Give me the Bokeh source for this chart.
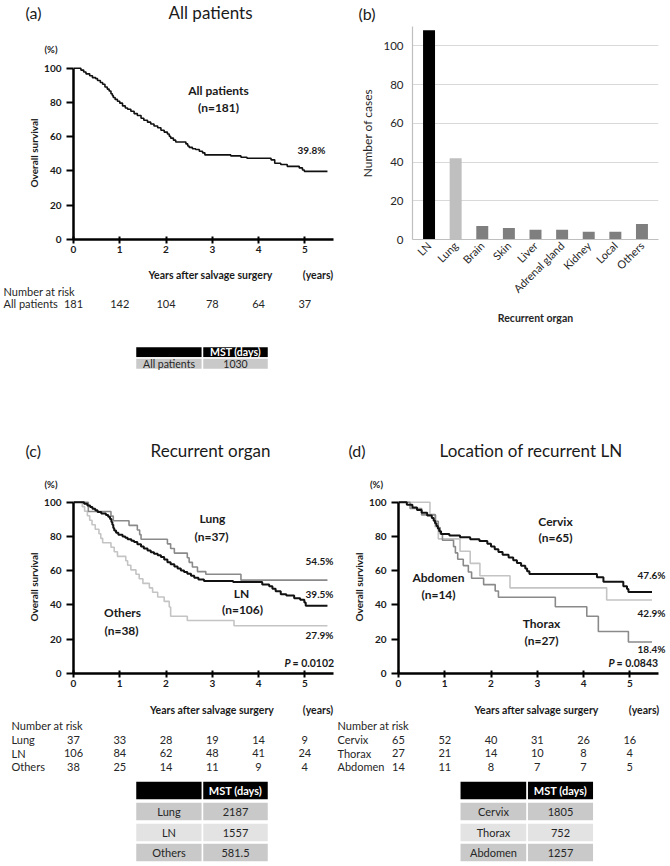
import math
from bokeh.plotting import figure
from bokeh.layouts import row, column
from bokeh.models import Range1d, FixedTicker, Label, FactorRange
from bokeh.embed import file_html
from bokeh.resources import INLINE
from bokeh.core.properties import value

FONT = "Lato"
INK = "#1a1a1a"
SOFT = "#262626"

# ------------------------------------------------------------------ data
YEARS = [0, 1, 2, 3, 4, 5]
SURV_TICKS = [0, 20, 40, 60, 80, 100]
CASE_TICKS = [0, 20, 40, 60, 80, 100]

# (a) all patients
ALL_T = [0, 0.16, 0.22, 0.27, 0.35, 0.41, 0.48, 0.52, 0.58, 0.63, 0.68, 0.73, 0.77, 0.81, 0.84,
         0.86, 0.90, 0.95, 1.00, 1.06, 1.12, 1.17, 1.24, 1.31, 1.38, 1.46, 1.52, 1.60, 1.67, 1.74,
         1.82, 1.89, 1.96, 2.03, 2.07, 2.10, 2.16, 2.21, 2.43, 2.47, 2.50, 2.57, 2.64, 2.72, 2.79,
         2.84, 3.40, 3.62, 3.75, 4.27, 4.35, 4.48, 4.62, 4.88, 4.95, 4.99, 5.49]
ALL_S = [100, 98.9, 97.8, 96.7, 95.6, 94.5, 93.9, 92.8, 91.7, 90.6, 89.0, 87.8, 86.7, 85.1, 84.0,
         82.9, 81.8, 80.7, 79.6, 78.0, 76.8, 76.0, 74.9, 73.5, 72.4, 70.8, 69.6, 68.5, 67.4, 66.3,
         65.2, 63.8, 62.7, 61.6, 60.3, 59.2, 58.0, 56.9, 55.8, 54.6, 53.8, 53.0, 52.5, 51.5, 50.6,
         49.4, 48.8, 48.0, 47.4, 46.5, 44.5, 43.8, 42.7, 41.8, 40.6, 39.8, 39.8]

# (c) recurrent organ
LN_T = [0, 0.23, 0.30, 0.36, 0.41, 0.47, 0.52, 0.60, 0.70, 0.75, 0.79, 0.82, 0.84, 0.86, 0.88,
        0.92, 0.97, 1.06, 1.12, 1.17, 1.25, 1.31, 1.38, 1.46, 1.52, 1.60, 1.67, 1.74, 1.82, 1.89,
        1.96, 2.03, 2.10, 2.18, 2.25, 2.32, 2.39, 2.46, 2.54, 2.61, 2.70, 2.82, 3.45, 4.08, 4.23,
        4.30, 4.37, 4.48, 4.60, 4.77, 4.90, 4.99, 5.02, 5.49]
LN_S = [100, 99.1, 98.1, 97.2, 96.2, 95.3, 94.3, 93.4, 92.5, 91.5, 90.2, 88.5, 86.8, 85.0, 83.5,
        82.2, 81.0, 80.0, 79.2, 78.4, 77.5, 76.7, 75.4, 74.2, 73.0, 71.8, 70.8, 69.9, 69.0, 68.0,
        66.5, 65.0, 63.8, 62.5, 61.3, 60.2, 59.2, 58.3, 57.1, 55.9, 54.9, 54.0, 53.4, 52.0, 50.9,
        49.5, 48.0, 46.2, 45.5, 44.0, 43.0, 41.5, 39.5, 39.5]
LUNG_T = [0, 0.32, 0.81, 0.86, 1.20, 1.38, 1.43, 1.46, 2.03, 2.10, 2.18, 2.46, 2.50, 2.57, 2.68,
          2.86, 3.62, 5.49]
LUNG_S = [100, 94.6, 91.9, 89.2, 86.5, 83.8, 81.1, 78.4, 75.7, 73.0, 70.3, 67.6, 64.9, 62.2, 59.5,
          57.9, 54.5, 54.5]
OTH_T = [0, 0.19, 0.24, 0.30, 0.35, 0.40, 0.47, 0.55, 0.59, 0.63, 0.81, 0.88, 0.95, 1.13, 1.17,
         1.24, 1.35, 1.42, 1.50, 1.64, 1.71, 1.82, 1.96, 2.07, 2.10, 2.46, 3.47, 5.49]
OTH_S = [100, 97.4, 94.7, 92.1, 89.5, 86.8, 84.2, 81.6, 78.9, 76.3, 73.7, 71.1, 68.4, 65.8, 63.2,
         60.5, 57.9, 55.3, 52.6, 50.0, 47.4, 44.7, 42.1, 38.8, 33.4, 30.9, 27.9, 27.9]

# (d) location of recurrent LN
CERV_T = [0, 0.18, 0.30, 0.40, 0.50, 0.62, 0.72, 0.76, 0.79, 0.82, 0.85, 0.88, 0.92, 1.10, 1.33,
          1.55, 1.75, 1.92, 2.00, 2.08, 2.16, 2.25, 2.38, 2.48, 2.56, 2.65, 2.74, 2.78, 2.83, 4.29,
          4.43, 4.86, 4.94, 4.97, 5.48]
CERV_S = [100, 98.5, 96.9, 95.4, 93.8, 92.3, 90.8, 89.2, 87.7, 86.1, 84.6, 83.1, 81.5, 80.6, 79.5,
          78.4, 77.4, 75.7, 74.1, 72.5, 70.9, 69.3, 67.7, 66.1, 64.5, 62.9, 61.3, 59.7, 58.1, 56.2,
          53.6, 51.0, 49.3, 47.6, 47.6]
THOR_T = [0, 0.25, 0.50, 0.80, 0.86, 0.90, 0.95, 1.19, 1.23, 1.28, 1.40, 1.51, 1.58, 1.84, 2.09,
          2.16, 3.39, 4.07, 4.32, 4.97, 5.48]
THOR_S = [100, 96.3, 92.6, 88.9, 85.2, 81.5, 77.8, 74.1, 70.4, 66.7, 63.0, 59.3, 55.6, 51.9, 48.2,
          44.5, 39.0, 33.4, 24.5, 18.4, 18.4]
ABD_T = [0, 0.68, 0.79, 0.86, 1.33, 1.55, 1.76, 2.41, 4.50, 5.48]
ABD_S = [100, 92.9, 85.7, 78.6, 71.4, 64.3, 57.1, 50.0, 42.9, 42.9]

# numbers at risk
RISK_ALL = [181, 142, 104, 78, 64, 37]
RISK_LUNG = [37, 33, 28, 19, 14, 9]
RISK_LN = [106, 84, 62, 48, 41, 24]
RISK_OTH = [38, 25, 14, 11, 9, 4]
RISK_CERV = [65, 52, 40, 31, 26, 16]
RISK_THOR = [27, 21, 14, 10, 8, 4]
RISK_ABD = [14, 11, 8, 7, 7, 5]

# median survival times
MST_A_GROUPS = ["All patients"]
MST_A_DAYS = ["1030"]
MST_C_GROUPS = ["Lung", "LN", "Others"]
MST_C_DAYS = ["2187", "1557", "581.5"]
MST_D_GROUPS = ["Cervix", "Thorax", "Abdomen"]
MST_D_DAYS = ["1805", "752", "1257"]

# (b) recurrent organs
ORGANS = ["LN", "Lung", "Brain", "Skin", "Liver", "Adrenal gland", "Kidney", "Local", "Others"]
ORGAN_CASES = [108, 42, 7, 6, 5, 5, 4, 4, 8]
ORGAN_COLORS = ["#000000", "#bfbfbf", "#7f7f7f", "#7f7f7f", "#7f7f7f", "#7f7f7f", "#7f7f7f",
                "#7f7f7f", "#7f7f7f"]

# ------------------------------------------------------------------ layout
COL_W = 335
PX_PER_YR = 46.26
X_AXIS_END = 5.62
Y_END = 101

BLACK_LINE = dict(line_color="#111111", line_width=2)
MID_LINE = dict(line_color="#8a8a8a", line_width=1.6)
LIGHT_LINE = dict(line_color="#c4c4c4", line_width=1.6)


def no_frame_align(p):
    try:
        p.frame_align = False
    except Exception:
        pass


def km_figure(origin, height, left, top, bottom):
    x_end = (COL_W - left) / PX_PER_YR
    p = figure(width=COL_W, height=height, x_range=Range1d(0, x_end), y_range=Range1d(0, Y_END),
               min_border_left=left, min_border_right=0, min_border_top=top,
               min_border_bottom=bottom, output_backend="svg", toolbar_location=None, title=None)
    no_frame_align(p)
    p.outline_line_color = None
    p.grid.visible = False
    xa, ya = p.xaxis[0], p.yaxis[0]
    xa.ticker = FixedTicker(ticks=YEARS)
    ya.ticker = FixedTicker(ticks=SURV_TICKS)
    xa.bounds = (0, X_AXIS_END)
    ya.bounds = (0, 100)
    for ax in (xa, ya):
        ax.axis_line_width = 2.5
        ax.axis_line_color = "black"
        ax.major_tick_line_width = 2
        ax.major_tick_line_color = "black"
        ax.minor_tick_line_color = None
        ax.major_label_text_font = FONT
        ax.major_label_text_font_size = "10px"
        ax.major_label_text_font_style = "bold"
        ax.major_label_text_color = INK
    xa.major_tick_in = 3
    xa.major_tick_out = 4
    xa.major_label_standoff = 2
    ya.major_tick_in = 0
    ya.major_tick_out = 7
    ya.major_label_standoff = 5
    ya.axis_label = "Overall survival"
    ya.axis_label_text_font = FONT
    ya.axis_label_text_font_size = "10px"
    ya.axis_label_text_font_style = "bold"
    ya.axis_label_text_color = INK
    ya.axis_label_standoff = 1

    frame_left = origin[0] + left
    frame_bottom = origin[1] + height - bottom
    px_per_pct = (height - top - bottom) / Y_END

    def conv(px, py):
        return (px - frame_left) / PX_PER_YR, (frame_bottom - py) / px_per_pct

    return p, conv, frame_left


def put(p, conv, px, py, text, size, style="bold", align="center", color=INK):
    x, y = conv(px, py)
    p.add_layout(Label(x=x, y=y, text=text, text_font=FONT, text_font_size=f"{size}px",
                       text_font_style=style, text_align=align, text_baseline="middle",
                       text_color=color))


def text_figure(origin, height, zero_px=None):
    ox, oy = origin
    p = figure(width=COL_W, height=height, x_range=Range1d(0, COL_W),
               y_range=Range1d(height, 0), x_axis_type=None, y_axis_type=None, min_border=0,
               output_backend="svg", toolbar_location=None, title=None)
    no_frame_align(p)
    if zero_px is not None:
        p.extra_x_ranges = {"yr": Range1d(-(zero_px - ox) / PX_PER_YR,
                                          (ox + COL_W - zero_px) / PX_PER_YR)}
    p.outline_line_color = None
    p.grid.visible = False
    return p


def ptext(p, origin, pxs, pys, texts, size, style="normal", align="center", color=SOFT,
          years=False):
    ox, oy = origin
    xs = list(pxs) if years else [x - ox for x in pxs]
    extra = {"x_range_name": "yr"} if years else {}
    p.text(x=xs, y=[y - oy for y in pys], text=texts, text_font=value(FONT),
           text_font_size=f"{size}px", text_font_style=style, text_align=align,
           text_baseline="middle", text_color=color, **extra)


def add_heading(p, origin, tag_px, tag, title_px, title, pct_px, pct_py, title_py):
    ptext(p, origin, [tag_px], [title_py], [tag], 16, align="left", color=INK)
    ptext(p, origin, [title_px], [title_py], [title], 17, color=INK)
    if pct_px is not None:
        ptext(p, origin, [pct_px], [pct_py], ["(%)"], 9.5, "bold", color=INK)


def add_axis_title(p, origin, title_px, years_px, py):
    ptext(p, origin, [title_px], [py], ["Years after salvage surgery"], 10.5, "bold", color=INK)
    ptext(p, origin, [years_px], [py], ["(years)"], 10.5, "bold", color=INK)


def add_at_risk(p, origin, label_px, head_py, row_pys, groups, risks):
    ptext(p, origin, [label_px], [head_py], ["Number at risk"], 11, align="left")
    ptext(p, origin, [label_px] * len(groups), row_pys, groups, 11, align="left")
    xs, ys, ts = [], [], []
    for r, vals in zip(row_pys, risks):
        for yr, v in zip(YEARS, vals):
            xs.append(yr)
            ys.append(r)
            ts.append(str(v))
    ptext(p, origin, xs, ys, ts, 11, years=True)


ROW_SHADES = ["#c9c9c9", "#e3e3e3", "#c9c9c9"]


def add_mst(p, origin, col_px, head_py, row_py, groups, days, size):
    ox, oy = origin
    l, m, r = [c - ox for c in col_px]
    p.quad(left=[l, m], right=[m, r], top=[head_py[0] - oy] * 2, bottom=[head_py[1] - oy] * 2,
           fill_color="black", line_color="white", line_width=1.5)
    ptext(p, origin, [(col_px[1] + col_px[2]) / 2], [(head_py[0] + head_py[1]) / 2],
          ["MST (days)"], size, "bold", color="white")
    for i, (g, d) in enumerate(zip(groups, days)):
        t, b = row_py[i]
        p.quad(left=[l, m], right=[m, r], top=[t - oy] * 2, bottom=[b - oy] * 2,
               fill_color=ROW_SHADES[i], line_color="white", line_width=1.5)
        cy = (t + b) / 2
        ptext(p, origin, [(col_px[0] + col_px[1]) / 2, (col_px[1] + col_px[2]) / 2], [cy, cy],
              [g, d], size)


# ---------------- panel (a)
HA = (0, 0)
ha = text_figure(HA, 60)
add_heading(ha, HA, 25, "(a)", 210, "All patients", 50.5, 49, 12)

A_ORIGIN = (0, 60)
pa, ca, a_zero = km_figure(A_ORIGIN, 202, 73, 6, 23)
pa.step(ALL_T, ALL_S, mode="after", line_color="#111111", line_width=1.6)
put(pa, ca, 218, 90, "All patients", 12)
put(pa, ca, 218, 107, "(n=181)", 12)
put(pa, ca, 311, 149, "39.8%", 10)

IA = (0, 262)
ia = text_figure(IA, 121, a_zero)
add_axis_title(ia, IA, 210, 317.5, 274)
add_at_risk(ia, IA, 3, 291, [303], ["All patients"], [RISK_ALL])
add_mst(ia, IA, [135, 202, 268], (346, 357.5), [(357.5, 369)], MST_A_GROUPS, MST_A_DAYS, 10.5)

# ---------------- panel (b)
HB = (335, 0)
hb = text_figure(HB, 24)
ptext(hb, HB, [358], [13], ["(b)"], 16, align="left", color=INK)

pb = figure(width=COL_W, height=359,
            x_range=FactorRange(factors=ORGANS, range_padding=0.027, range_padding_units="percent"),
            y_range=Range1d(0, 110), min_border_left=77, min_border_right=12, min_border_top=2,
            min_border_bottom=144, output_backend="svg", toolbar_location=None, title=None)
no_frame_align(pb)
pb.outline_line_color = None
pb.vbar(x=ORGANS, top=ORGAN_CASES, width=0.45, fill_color=ORGAN_COLORS, line_color=None)
pb.xgrid.visible = False
pb.ygrid.grid_line_color = "#d9d9d9"
pb.ygrid.grid_line_width = 1
pb.yaxis.ticker = FixedTicker(ticks=CASE_TICKS)
for ax in (pb.xaxis[0], pb.yaxis[0]):
    ax.axis_line_color = "#bfbfbf"
    ax.axis_line_width = 1.2
    ax.major_tick_line_color = None
    ax.minor_tick_line_color = None
    ax.major_tick_in = 0
    ax.major_tick_out = 0
    ax.major_label_text_font = FONT
    ax.major_label_text_color = SOFT
pb.yaxis.major_label_text_font_size = "11.5px"
pb.yaxis.major_label_standoff = 9
pb.yaxis.axis_label = "Number of cases"
pb.yaxis.axis_label_text_font = FONT
pb.yaxis.axis_label_text_font_size = "12px"
pb.yaxis.axis_label_text_font_style = "normal"
pb.yaxis.axis_label_text_color = SOFT
pb.yaxis.axis_label_standoff = 5
pb.xaxis.major_label_orientation = math.pi / 4
pb.xaxis.major_label_text_font_size = "11px"
pb.xaxis.major_label_standoff = 4
pb.xaxis.axis_label = "Recurrent organ"
pb.xaxis.axis_label_text_font = FONT
pb.xaxis.axis_label_text_font_size = "10.5px"
pb.xaxis.axis_label_text_font_style = "bold"
pb.xaxis.axis_label_text_color = SOFT
pb.xaxis.axis_label_standoff = 10

# ---------------- panel (c)
HC = (0, 383)
hc = text_figure(HC, 107)
add_heading(hc, HC, 25, "(c)", 210, "Recurrent organ", 50.5, 484, 450)

C_ORIGIN = (0, 490)
pc, cc, c_zero = km_figure(C_ORIGIN, 206, 73, 10, 23)
pc.step(OTH_T, OTH_S, mode="after", **LIGHT_LINE)
pc.step(LUNG_T, LUNG_S, mode="after", **MID_LINE)
pc.step(LN_T, LN_S, mode="after", **BLACK_LINE)
put(pc, cc, 212, 518, "Lung", 12)
put(pc, cc, 211, 536, "(n=37)", 12)
put(pc, cc, 241, 593, "LN", 12)
put(pc, cc, 242, 609, "(n=106)", 12)
put(pc, cc, 122, 612, "Others", 12)
put(pc, cc, 121, 630, "(n=38)", 12)
put(pc, cc, 333, 560, "54.5%", 10, align="right")
put(pc, cc, 333, 593, "39.5%", 10, align="right")
put(pc, cc, 333, 634, "27.9%", 10, align="right")
put(pc, cc, 284, 662, "P", 10.5, "bold italic", "left")
put(pc, cc, 292, 662, "= 0.0102", 10.5, "bold", "left")

IC = (0, 696)
ic = text_figure(IC, 170, c_zero)
add_axis_title(ic, IC, 211.5, 317.5, 709)
add_at_risk(ic, IC, 11, 725, [739, 752.5, 766], ["Lung", "LN", "Others"],
            [RISK_LUNG, RISK_LN, RISK_OTH])
add_mst(ic, IC, [135, 202, 268], (780.5, 799.5),
        [(801.5, 820.5), (822.5, 841.5), (842.5, 861.5)], MST_C_GROUPS, MST_C_DAYS, 11)

# ---------------- panel (d)
HD = (335, 383)
hd = text_figure(HD, 107)
add_heading(hd, HD, 348, "(d)", 530.5, "Location of recurrent LN", 376, 484, 450)

D_ORIGIN = (335, 490)
pd_, cd, d_zero = km_figure(D_ORIGIN, 206, 63, 10, 23)
pd_.step(ABD_T, ABD_S, mode="after", **LIGHT_LINE)
pd_.step(THOR_T, THOR_S, mode="after", **MID_LINE)
pd_.step(CERV_T, CERV_S, mode="after", **BLACK_LINE)
put(pd_, cd, 555, 521, "Cervix", 12)
put(pd_, cd, 555, 537, "(n=65)", 12)
put(pd_, cd, 438, 577, "Abdomen", 12)
put(pd_, cd, 438, 594, "(n=14)", 12)
put(pd_, cd, 541, 623, "Thorax", 12)
put(pd_, cd, 541, 640, "(n=27)", 12)
put(pd_, cd, 665, 574, "47.6%", 10, align="right")
put(pd_, cd, 665, 612, "42.9%", 10, align="right")
put(pd_, cd, 665, 648, "18.4%", 10, align="right")
put(pd_, cd, 608, 662, "P", 10.5, "bold italic", "left")
put(pd_, cd, 616, 662, "= 0.0843", 10.5, "bold", "left")

ID = (335, 696)
idd = text_figure(ID, 170, d_zero)
add_axis_title(idd, ID, 536, 643.5, 709)
add_at_risk(idd, ID, 337, 725, [739, 752.5, 766], ["Cervix", "Thorax", "Abdomen"],
            [RISK_CERV, RISK_THOR, RISK_ABD])
add_mst(idd, ID, [459.3, 526.7, 593.3], (780.5, 799.5),
        [(801.5, 820.5), (822.5, 841.5), (842.5, 861.5)], MST_D_GROUPS, MST_D_DAYS, 11)

layout = column(
    row(column(ha, pa, ia), column(hb, pb)),
    row(column(hc, pc, ic), column(hd, pd_, idd)),
)

with open("out.html", "w") as f:
    f.write(file_html(layout, INLINE))
